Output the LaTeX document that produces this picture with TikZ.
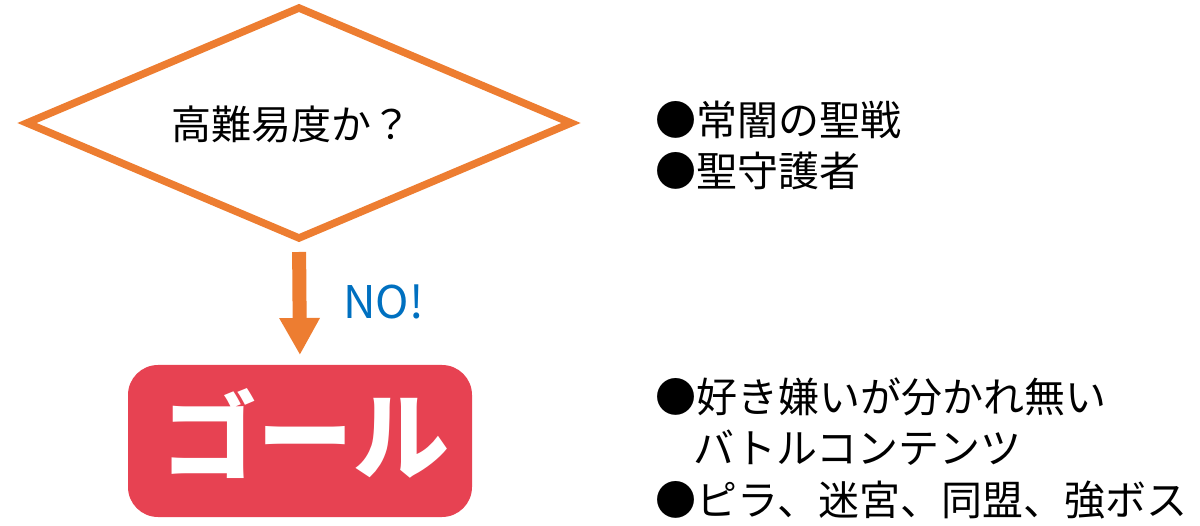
\documentclass[tikz,border=0pt]{standalone}
\usepackage{fontspec}
\setmainfont{Noto Sans CJK JP}
\usetikzlibrary{shapes.geometric,arrows.meta}
\definecolor{flowor}{RGB}{237,125,49}
\definecolor{noblue}{RGB}{0,112,192}
\definecolor{goalred}{RGB}{231,66,82}
\tikzset{
  decision/.style={shape=diamond, draw=flowor, line width=7.5pt, minimum width=544pt, minimum height=230pt, inner sep=0pt, outer sep=0pt},
  qtext/.style={font=\fontsize{40}{44}\selectfont, inner sep=0pt},
  goalbox/.style={shape=rectangle, fill=goalred, rounded corners=30pt, minimum width=344pt, minimum height=152pt, inner sep=0pt, outer sep=0pt},
  goaltext/.style={text=white, font=\fontsize{96}{100}\selectfont\bfseries, inner sep=0pt},
  flowarrow/.style={draw=flowor, line width=14pt, -{Triangle[width=38pt,length=37pt]}},
  notext/.style={text=noblue, font=\fontsize{45}{50}\selectfont, inner sep=0pt, anchor=west},
  bullettext/.style={font=\fontsize{41}{46}\selectfont, inner sep=0pt, anchor=west}
}
\begin{document}
\begin{tikzpicture}[x=1pt,y=-1pt]
\useasboundingbox (0,0) rectangle (1200,526);
\node[decision] (q) at (299,123) {};
\node[qtext] (qt) at (291,124) {高難易度か？};
\node[goalbox] (goal) at (300,441) {};
\node[goaltext] (gt) at (305,434) {ゴール};
\draw[flowarrow, shorten <=14pt, shorten >=10pt] (q.south) -- (goal.north);
\node[notext] (no) at (343,302) {NO!};
\node[bullettext] (r1) at (655,120) {●常闇の聖戦};
\node[bullettext] (r2) at (655,171) {●聖守護者};
\node[bullettext] (r3) at (655,397) {●好き嫌いが分かれ無い};
\node[bullettext] (r4) at (693,448) {バトルコンテンツ};
\node[bullettext] (r5) at (655,500) {●ピラ、迷宮、同盟、強ボス};
\end{tikzpicture}
\end{document}
